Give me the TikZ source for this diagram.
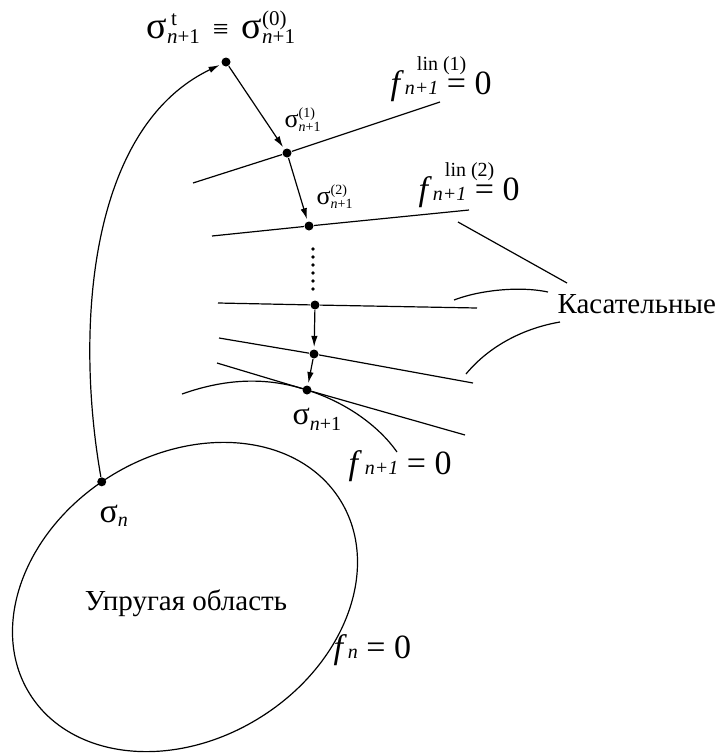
\documentclass[tikz,border=0pt]{standalone}
\usepackage{fontspec}
\setmainfont{Liberation Serif}
\usetikzlibrary{arrows.meta}
\newcommand{\fs}[1]{\fontsize{#1}{#1}\selectfont}
% #1 script size, #2 sub drop, #3 sup raise, #4 sup indent, #5 sub, #6 sup
\newcommand{\scr}[6]{\ooalign{\raisebox{-#2}{\fs{#1}#5}\cr
  \hspace{#4}\raisebox{#3}{\fs{#1}#6}\cr}}
\newcommand{\np}{\textit{n}+1}
\newcommand{\fnp}{\textit{n+1}}

\begin{document}
\begin{tikzpicture}[x=1pt,y=-1pt,line width=1.2pt,
  pt/.style={circle,fill,inner sep=0pt,minimum size=9pt},
  arr/.style={-{Latex[length=11pt,width=6.5pt]},shorten >=2pt},
  lbl/.style={inner sep=0pt,anchor=base west},
  txt/.style={font=\fs{29},inner sep=0pt}]
\useasboundingbox (0,0) rectangle (717,753);
% elastic domain
\begin{scope}[shift={(185,597)},rotate=32]
\draw (0,0) ellipse (183 and 142);
\coordinate (sn) at (-93:183 and 142);
\end{scope}
\node[txt,anchor=base] (elast) at (186,610) {Упругая область};
\node[lbl] (fn) at (333,658) {\fs{34}\textit{f}\kern1pt\fs{20}\textit{n}\fs{34} = 0};
% iteration points
\node[pt] (s0) at (226,62) {};
\node[pt] (s1) at (287,153) {};
\node[pt] (s2) at (309,226) {};
\node[pt] (s3) at (315,305) {};
\node[pt] (s4) at (314,354) {};
\node[pt] (s5) at (307,390) {};
\node[pt] (sn) at (sn) {};
% tangents
\coordinate (t1a) at (193,183); \coordinate (t1b) at (440,102);
\coordinate (t2a) at (212,236); \coordinate (t2b) at (469,210);
\coordinate (t3a) at (218,303); \coordinate (t3b) at (477,308);
\coordinate (t4a) at (219,338); \coordinate (t4b) at (473,383);
\coordinate (t5a) at (217,363); \coordinate (t5b) at (465,435);
\draw (t1a) -- (s1) -- (t1b);
\draw (t2a) -- (s2) -- (t2b);
\draw (t3a) -- (s3) -- (t3b);
\draw (t4a) -- (s4) -- (t4b);
\draw (t5a) -- (s5) -- (t5b);
% yield surface f_{n+1}
\draw (182,394) .. controls (230,377) and (270,378) .. (s5.center)
  .. controls (345,402) and (378,425) .. (397,452);
% return steps
\draw[arr] (sn) .. controls (75,330) and (88,128) .. (s0);
\draw[arr] (s0) -- (s1);
\draw[arr] (s1) -- (s2);
\draw[arr] (s3) -- (s4);
\draw[arr] (s4) -- (s5);
\foreach \y in {249,257,...,289} \fill (313,\y) circle (1.8);
% labels
\node[lbl] (s0lbl) at (146,38) {\fs{38}σ\scr{21}{5pt}{13pt}{4pt}{\np}{t}%
  \fs{28}\hspace{13pt}≡\hspace{13pt}\fs{38}σ\scr{21}{5pt}{13pt}{0pt}{\np}{(0)}};
\node[lbl] (s1lbl) at (284,127) {\fs{26}σ\scr{14}{4pt}{10pt}{0pt}{\np}{(1)}};
\node[lbl] (s2lbl) at (316,204) {\fs{26}σ\scr{14}{4pt}{10pt}{0pt}{\np}{(2)}};
\node[lbl] (s5lbl) at (292,424) {\fs{32}σ\scr{20}{6pt}{0pt}{0pt}{\np}{}};
\node[lbl] (snlbl) at (99,522) {\fs{34}σ\scr{20}{4pt}{0pt}{0pt}{\textit{n}}{}};
\node[lbl] (fl1) at (390,94) {\fs{34}\textit{f}\kern1pt
  \rlap{\hspace{12pt}\raisebox{24pt}{\fs{20}lin (1)}}\fs{20}\fnp\fs{34} = 0};
\node[lbl] (fl2) at (418,200) {\fs{34}\textit{f}\kern1pt
  \rlap{\hspace{12pt}\raisebox{24pt}{\fs{20}lin (2)}}\fs{20}\fnp\fs{34} = 0};
\node[lbl] (fnp) at (348,474) {\fs{34}\textit{f}\kern3pt\fs{20}\fnp\fs{34} = 0};
% leaders to the tangents
\node[txt,anchor=base west] (kas) at (557,313) {Касательные};
\coordinate (k1) at (458,222); \coordinate (k1e) at (567,283);
\coordinate (k2) at (454,300); \coordinate (k2e) at (548,292);
\coordinate (k3) at (466,374); \coordinate (k3e) at (560,322);
\draw (k1) -- (k1e);
\draw (k2) .. controls (480,290) and (520,286) .. (k2e);
\draw (k3) .. controls (490,345) and (525,328) .. (k3e);
\end{tikzpicture}
\end{document}
